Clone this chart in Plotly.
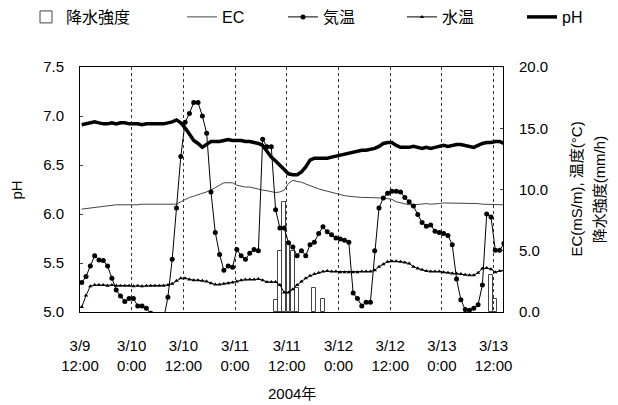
import pandas as pd
import plotly.graph_objects as go

# ---------------- data (hourly) ----------------
START = "2004-03-09 12:24"

AIR = [2.4, 2.9, 3.75, 4.6, 4.25, 4.2, 3.75, 2.75, 1.8, 1.3,
       0.85, 1.1, 1.1, 0.5, 0.5, 0.3, -0.1, -1.0, -1.2, -0.6,
       1.2, 4.3, 8.5, 12.7, 15.5, 16.2, 17.1, 17.1, 16.0, 14.6,
       9.8, 6.5, 4.7, 3.4, 3.75, 3.65, 5.1, 4.6, 4.3, 4.8,
       5.1, 5.0, 14.1, 13.5, 13.5, 8.35, 6.85, 6.85, 5.65, 5.3,
       4.6, 5.0, 4.6, 5.5, 5.7, 6.4, 6.95, 6.55, 6.3, 6.05,
       5.95, 5.85, 5.7, 1.55, 1.1, 0.5, 0.8, 0.8, 5.0, 8.5,
       9.3, 9.7, 9.85, 9.85, 9.8, 9.35, 9.0, 8.65, 7.95, 7.3,
       7.0, 7.1, 6.6, 6.5, 6.4, 6.25, 5.5, 2.7, 1.0, 0.2,
       0.15, 0.3, 0.6, 2.2, 8.0, 7.75, 5.05, 5.05, 5.6]

WATER = [0.4, 1.35, 2.1, 2.2, 2.2, 2.2, 2.15, 2.2, 2.15, 2.15,
         2.15, 2.15, 2.1, 2.15, 2.1, 2.15, 2.15, 2.15, 2.15, 2.15,
         2.2, 2.3, 2.55, 2.75, 2.75, 2.65, 2.6, 2.6, 2.55, 2.5,
         2.35, 2.25, 2.25, 2.3, 2.35, 2.4, 2.5, 2.6, 2.65, 2.65,
         2.65, 2.7, 2.6, 2.45, 2.45, 2.45, 2.2, 1.6, 1.6, 1.85,
         2.2, 2.5, 2.75, 2.95, 3.1, 3.2, 3.3, 3.35, 3.3, 3.3,
         3.25, 3.25, 3.25, 3.25, 3.25, 3.3, 3.3, 3.3, 3.4, 3.7,
         3.9, 4.1, 4.15, 4.15, 4.1, 4.05, 3.95, 3.7, 3.55, 3.45,
         3.35, 3.3, 3.3, 3.3, 3.25, 3.2, 3.15, 3.15, 3.1, 3.05,
         3.0, 3.0, 3.2, 3.55, 3.6, 3.5, 3.25, 3.35, 3.4]

EC = [8.4, 8.45, 8.5, 8.5, 8.55, 8.6, 8.65, 8.7, 8.75, 8.75,
      8.75, 8.7, 8.75, 8.75, 8.8, 8.8, 8.8, 8.8, 8.8, 8.8,
      8.8, 8.8, 8.8, 9.0, 9.2, 9.35, 9.45, 9.6, 9.7, 9.8,
      9.95, 10.15, 10.35, 10.55, 10.55, 10.55, 10.35, 10.25, 10.2, 10.2,
      10.1, 10.05, 9.95, 9.9, 9.8, 9.75, 9.8, 9.95, 10.5, 10.75,
      10.65, 10.6, 10.45, 10.3, 10.15, 10.05, 9.95, 9.85, 9.75, 9.65,
      9.6, 9.5, 9.45, 9.4, 9.4, 9.35, 9.35, 9.35, 9.3, 9.3,
      9.3, 9.25, 9.2, 9.0, 8.9, 8.8, 8.75, 8.75, 8.8, 8.85,
      8.85, 8.8, 8.8, 8.85, 8.9, 8.9, 8.9, 8.9, 8.85, 8.85,
      8.85, 8.85, 8.85, 8.8, 8.8, 8.8, 8.75, 8.75, 8.75]

PH = [6.91, 6.92, 6.93, 6.94, 6.93, 6.92, 6.92, 6.93, 6.92, 6.93,
      6.93, 6.92, 6.92, 6.92, 6.91, 6.92, 6.92, 6.92, 6.92, 6.92,
      6.93, 6.94, 6.96, 6.93, 6.88, 6.82, 6.75, 6.72, 6.68, 6.71,
      6.74, 6.74, 6.74, 6.75, 6.76, 6.75, 6.75, 6.75, 6.74, 6.74,
      6.73, 6.72, 6.70, 6.64, 6.58, 6.54, 6.50, 6.45, 6.41, 6.40,
      6.40, 6.43, 6.48, 6.55, 6.57, 6.57, 6.57, 6.57, 6.58, 6.59,
      6.60, 6.61, 6.62, 6.63, 6.64, 6.65, 6.65, 6.66, 6.67, 6.69,
      6.72, 6.73, 6.73, 6.70, 6.68, 6.68, 6.68, 6.69, 6.68, 6.67,
      6.68, 6.67, 6.68, 6.69, 6.70, 6.69, 6.70, 6.71, 6.71, 6.70,
      6.69, 6.68, 6.70, 6.72, 6.73, 6.73, 6.74, 6.74, 6.72]

RAIN_IDX = [45, 46, 47, 48, 49, 50, 54, 56, 95, 96]
RAIN = [1.0, 5.0, 9.0, 5.5, 5.0, 2.0, 2.0, 1.05, 3.0, 1.1]

X_LABELS = ["3/9<br>12:00", "3/10<br>0:00", "3/10<br>12:00", "3/11<br>0:00",
            "3/11<br>12:00", "3/12<br>0:00", "3/12<br>12:00", "3/13<br>0:00",
            "3/13<br>12:00"]

# ---------------- figure ----------------
times = pd.date_range(START, periods=len(PH), freq="h")
rain_times = times[RAIN_IDX]
grid_times = pd.date_range("2004-03-09 12:00", periods=len(X_LABELS), freq="12h")

FONT = "Liberation Sans, Arial, Noto Sans CJK JP, sans-serif"
W, H = 618, 405

fig = go.Figure()
fig.add_trace(go.Bar(
    x=rain_times, y=RAIN, yaxis="y2", name="降水強度", legend="legend",
    width=0.9 * 3600 * 1000, showlegend=True,
    marker=dict(color="rgba(0,0,0,0)", line=dict(color="#444", width=1)),
))
fig.add_trace(go.Scatter(
    x=times, y=EC, yaxis="y2", name="EC", mode="lines", legend="legend2",
    line=dict(color="#444", width=1),
))
fig.add_trace(go.Scatter(
    x=times, y=AIR, yaxis="y2", name="気温", mode="lines+markers", legend="legend3",
    line=dict(color="black", width=1),
    marker=dict(symbol="circle", size=5, color="black"),
))
fig.add_trace(go.Scatter(
    x=times, y=WATER, yaxis="y2", name="水温", mode="lines+markers", legend="legend4",
    line=dict(color="black", width=1),
    marker=dict(symbol="triangle-up", size=4, color="black"),
))
fig.add_trace(go.Scatter(
    x=times, y=PH, yaxis="y", name="pH", mode="lines", legend="legend5",
    line=dict(color="black", width=3.5),
))


def legend_at(px, py=17):
    return dict(orientation="h", xref="container", yref="container",
                x=px / W, y=1 - py / H, xanchor="left", yanchor="middle",
                font=dict(size=16), itemwidth=30, bgcolor="rgba(0,0,0,0)",
                visible=True)


fig.update_layout(
    width=W, height=H,
    margin=dict(l=80, r=115, t=67, b=93, autoexpand=False),
    paper_bgcolor="white", plot_bgcolor="white",
    font=dict(family=FONT, size=15, color="black"),
    showlegend=True,
    bargap=0,
    legend=legend_at(26),
    legend2=legend_at(182),
    legend3=legend_at(283),
    legend4=legend_at(402),
    legend5=legend_at(522),
    xaxis=dict(type="date", range=["2004-03-09 12:00", "2004-03-13 14:11"],
               tickvals=grid_times, ticktext=X_LABELS, ticks="",
               ticklabelstandoff=20,
               showgrid=True, gridcolor="#333", griddash="dot", gridwidth=1,
               showline=True, mirror=True, linecolor="black", linewidth=1,
               zeroline=False),
    yaxis=dict(range=[5, 7.5], dtick=0.5, tickformat=".1f", ticks="inside", ticklen=3,
               ticklabelstandoff=12,
               showgrid=False, showline=True, linecolor="black", zeroline=False),
    yaxis2=dict(overlaying="y", side="right", range=[0, 20], dtick=5, tickformat=".1f",
                ticks="inside", ticklen=3, ticklabelstandoff=12,
                showgrid=False, showline=True, linecolor="black", zeroline=False),
    annotations=[
        dict(text="pH", xref="paper", yref="paper", x=-0.149, y=0.5, textangle=-90,
             showarrow=False, xanchor="center", yanchor="middle", font=dict(size=15)),
        dict(text="EC(mS/m), 温度(°C)", xref="paper", yref="paper", x=1.1726, y=0.5,
             textangle=-90, showarrow=False, xanchor="center", yanchor="middle",
             font=dict(size=15)),
        dict(text="降水強度(mm/h)", xref="paper", yref="paper", x=1.229, y=0.5,
             textangle=-90, showarrow=False, xanchor="center", yanchor="middle",
             font=dict(size=15)),
        dict(text="2004年", xref="paper", yref="paper", x=0.5, y=-0.331,
             showarrow=False, xanchor="center", yanchor="middle", font=dict(size=15)),
    ],
)

fig.write_html("out.html")
